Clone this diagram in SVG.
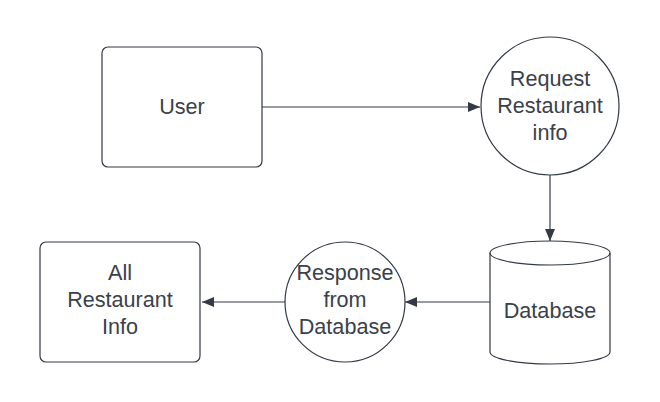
<svg xmlns="http://www.w3.org/2000/svg" width="660" height="402" viewBox="0 0 660 402">
<defs>
<style>
.shape{fill:#ffffff;stroke:#333a44;stroke-width:1.2}
.line{fill:none;stroke:#333a44;stroke-width:1.2}
.t{font-family:"Liberation Sans",Arial,sans-serif;font-size:21.6px;fill:#3a414a;text-anchor:middle}
</style>
<marker id="arr" viewBox="0 0 12 10" refX="12" refY="5" markerWidth="12" markerHeight="10" markerUnits="userSpaceOnUse" orient="auto">
<path d="M0,0 L12,5 L0,10 Z" fill="#333a44"/>
</marker>
</defs>
<rect width="660" height="402" fill="#ffffff"/>
<g id="connectors">
<line class="line" x1="262" y1="107" x2="480" y2="107" marker-end="url(#arr)"/>
<line class="line" x1="550" y1="175" x2="550" y2="241" marker-end="url(#arr)"/>
<line class="line" x1="490" y1="302" x2="405" y2="302" marker-end="url(#arr)"/>
<line class="line" x1="285" y1="302" x2="202" y2="302" marker-end="url(#arr)"/>
</g>
<g id="user">
<rect class="shape" x="102" y="47" width="160" height="120" rx="6"/>
<text class="t" x="182" y="114">User</text>
</g>
<g id="request">
<circle class="shape" cx="550" cy="106" r="69"/>
<text class="t" x="550" y="86">Request</text>
<text class="t" x="550" y="113">Restaurant</text>
<text class="t" x="550" y="140">info</text>
</g>
<g id="database">
<path class="shape" d="M490,253 A60,12 0 0 1 610,253 L610,352 A60,12 0 0 1 490,352 Z"/>
<path class="line" d="M490,253 A60,12 0 0 0 610,253"/>
<text class="t" x="550" y="318">Database</text>
</g>
<g id="response">
<circle class="shape" cx="345" cy="302" r="60"/>
<text class="t" x="345" y="280">Response</text>
<text class="t" x="345" y="307">from</text>
<text class="t" x="345" y="334">Database</text>
</g>
<g id="all-info">
<rect class="shape" x="40" y="242" width="160" height="120" rx="6"/>
<text class="t" x="120" y="280">All</text>
<text class="t" x="120" y="307">Restaurant</text>
<text class="t" x="120" y="334">Info</text>
</g>
</svg>
